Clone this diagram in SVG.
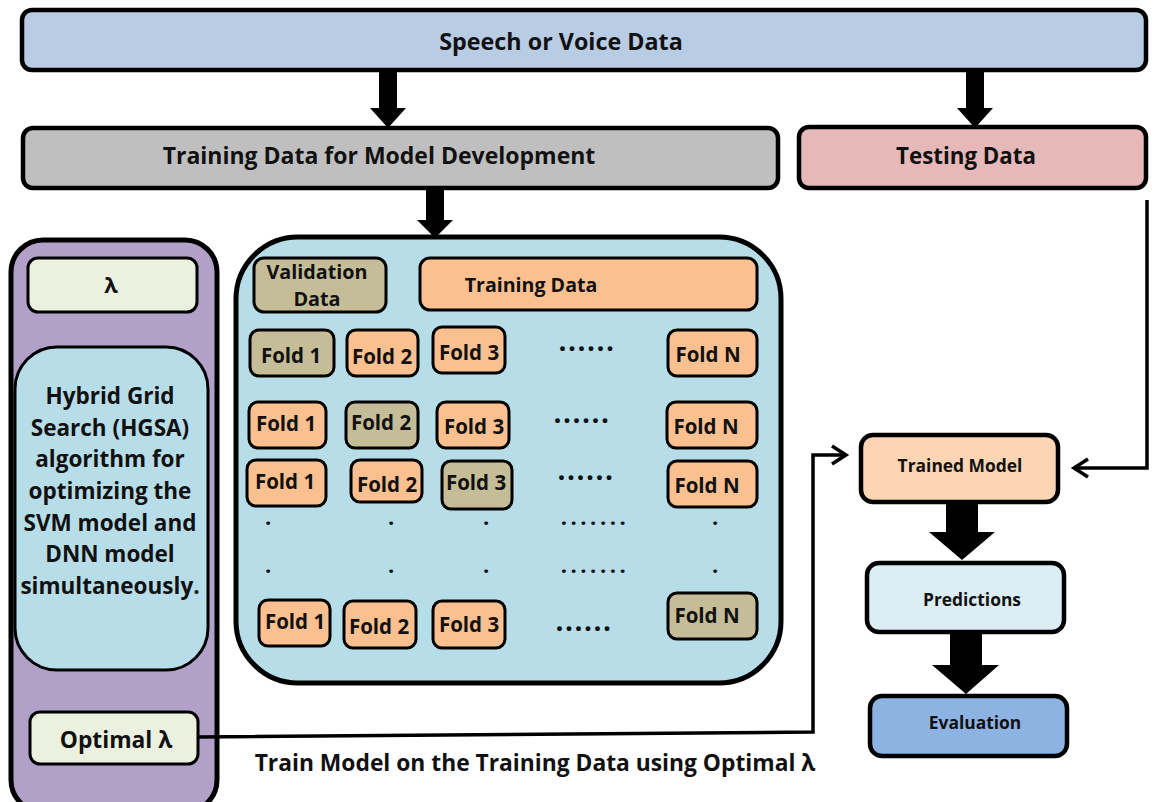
<svg xmlns="http://www.w3.org/2000/svg" width="1157" height="802" viewBox="0 0 1157 802">
<style>
text{font-family:"Open Sans","Liberation Sans",sans-serif;font-weight:bold;fill:#111;text-anchor:middle;dominant-baseline:central}
.b{stroke:#000;stroke-width:4.5}
.s{stroke:#000;stroke-width:3}
.f{font-size:20.5px}
.tan{fill:#c4bd97}
.or{fill:#fac090}
.dots{font-size:28px;letter-spacing:1.5px}
.d{font-size:22px;letter-spacing:3.5px}
.ln{fill:none;stroke:#000;stroke-width:3.5}
</style>
<rect width="1157" height="802" fill="#fff"/>
<g id="speech"><rect class="b" x="22" y="10" width="1124" height="60" rx="10" fill="#b8cce4"/><text x="561" y="41" font-size="23.3">Speech or Voice Data</text></g>
<g id="training"><rect class="b" x="23" y="128" width="755" height="60" rx="10" fill="#bfbfbf"/><text x="379" y="155" font-size="23">Training Data for Model Development</text></g>
<g id="testing"><rect class="b" x="799" y="127" width="347" height="61" rx="10" fill="#e6b8b7"/><text x="966" y="155" font-size="22.3">Testing Data</text></g>
<g id="hgsa-panel">
<rect x="11" y="240" width="206" height="572" rx="32" fill="#b1a0c7" stroke="#000" stroke-width="5"/>
<rect class="s" x="28" y="258" width="169" height="54" rx="10" fill="#ebf1de"/><text x="111" y="284" font-size="22">λ</text>
<rect class="s" x="15" y="347" width="193" height="323" rx="42" fill="#b7dde8"/>
<text font-size="22.5"><tspan x="110" y="395">Hybrid Grid</tspan><tspan x="110" y="427">Search (HGSA)</tspan><tspan x="110" y="458">algorithm for</tspan><tspan x="110" y="490">optimizing the</tspan><tspan x="110" y="522">SVM model and</tspan><tspan x="110" y="553">DNN model</tspan><tspan x="110" y="585">simultaneously.</tspan></text>
<rect class="s" x="30" y="712" width="168" height="52" rx="10" fill="#ebf1de"/><text x="116" y="739" font-size="22.8">Optimal λ</text>
</g>
<g id="cv">
<rect x="236" y="237" width="545" height="446" rx="62" fill="#b7dde8" stroke="#000" stroke-width="5"/>
<rect class="s tan" x="254" y="258" width="132" height="54" rx="10"/><text font-size="19.8"><tspan x="317" y="271">Validation</tspan><tspan x="317" y="298">Data</tspan></text>
<rect class="s or" x="420" y="258" width="337" height="52" rx="10"/><text font-size="19.6" x="531" y="284">Training Data</text>
<rect class="s tan" x="250" y="330" width="84" height="46" rx="9"/><text class="f" x="291" y="355">Fold 1</text>
<rect class="s or" x="347" y="330" width="71" height="46" rx="9"/><text class="f" x="382" y="356">Fold 2</text>
<rect class="s or" x="433" y="327" width="72" height="46" rx="9"/><text class="f" x="469" y="352">Fold 3</text>
<text class="dots" x="587" y="340">......</text>
<rect class="s or" x="668" y="330" width="89" height="46" rx="9"/><text class="f" x="708" y="354">Fold N</text>
<rect class="s or" x="249" y="402" width="77" height="46" rx="9"/><text class="f" x="286" y="423">Fold 1</text>
<rect class="s tan" x="346" y="402" width="72" height="46" rx="9"/><text class="f" x="381" y="422">Fold 2</text>
<rect class="s or" x="437" y="402" width="72" height="46" rx="9"/><text class="f" x="474" y="426">Fold 3</text>
<text class="dots" x="582" y="412">......</text>
<rect class="s or" x="667" y="402" width="90" height="46" rx="9"/><text class="f" x="706" y="426">Fold N</text>
<rect class="s or" x="247" y="460" width="79" height="46" rx="9"/><text class="f" x="285" y="481">Fold 1</text>
<rect class="s or" x="351" y="460" width="71" height="42" rx="9"/><text class="f" x="387" y="484">Fold 2</text>
<rect class="s tan" x="442" y="461" width="70" height="48" rx="9"/><text class="f" x="476" y="482">Fold 3</text>
<text class="dots" x="586" y="469">......</text>
<rect class="s or" x="668" y="461" width="89" height="46" rx="9"/><text class="f" x="707" y="485">Fold N</text>
<text class="d" x="270" y="516">.</text><text class="d" x="393" y="516">.</text><text class="d" x="488" y="516">.</text><text class="d" x="595" y="516">.......</text><text class="d" x="717" y="516">.</text>
<text class="d" x="270" y="564">.</text><text class="d" x="393" y="564">.</text><text class="d" x="488" y="564">.</text><text class="d" x="595" y="564">.......</text><text class="d" x="717" y="564">.</text>
<rect class="s or" x="259" y="600" width="71" height="46" rx="9"/><text class="f" x="295" y="621">Fold 1</text>
<rect class="s or" x="344" y="601" width="72" height="47" rx="9"/><text class="f" x="379" y="626">Fold 2</text>
<rect class="s or" x="433" y="601" width="72" height="47" rx="9"/><text class="f" x="469" y="624">Fold 3</text>
<text class="dots" x="584" y="620">......</text>
<rect class="s tan" x="668" y="593" width="89" height="46" rx="9"/><text class="f" x="707" y="615">Fold N</text>
</g>
<g id="trained"><rect class="b" x="861" y="435" width="197" height="67" rx="12" fill="#fcd5b4"/><text x="960" y="465" font-size="17.4">Trained Model</text></g>
<g id="predictions"><rect class="b" x="867" y="563" width="197" height="69" rx="12" fill="#dbeef3"/><text x="972" y="599" font-size="17.4">Predictions</text></g>
<g id="evaluation"><rect class="b" x="870" y="696" width="197" height="60" rx="12" fill="#8db3e2"/><text x="975" y="722" font-size="17.4">Evaluation</text></g>
<g id="connectors">
<polygon points="379,72 397,72 397,108 406,108 388,128 370,108 379,108"/>
<polygon points="966,72 984,72 984,108 993,108 975,128 957,108 966,108"/>
<polygon points="426,190 444,190 444,220 453,220 435,238 417,220 426,220"/>
<polygon points="946,502 978,502 978,532 995,532 962,560 929,532 946,532"/>
<polygon points="950,632 982,632 982,665 999,665 966,694 932,665 950,665"/>
<polyline class="ln" points="1147,200 1147,468 1076,468"/>
<polyline class="ln" points="1088,459 1074,468 1088,477"/>
<polyline class="ln" points="198,737 813,732 813,455 845,455"/>
<polyline class="ln" points="832,446 846,455 832,464"/>
<text x="535" y="762" font-size="22.8">Train Model on the Training Data using Optimal λ</text>
</g>
</svg>
